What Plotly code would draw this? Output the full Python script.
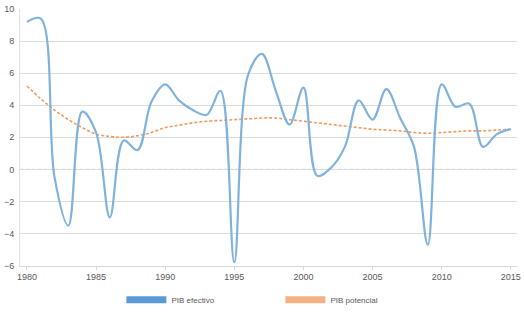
import plotly.graph_objects as go

years = list(range(1980, 2016))
pib_efectivo = [9.2, 9.4, -0.5, -3.5, 3.6, 2.3, -3.0, 1.8, 1.2, 4.2,
                5.3, 4.3, 3.7, 3.4, 4.9, -5.8, 5.9, 7.2, 4.9, 2.8,
                5.1, -0.4, 0.1, 1.4, 4.3, 3.1, 5.0, 3.2, 1.4, -4.7,
                5.3, 3.9, 4.1, 1.4, 2.2, 2.5]
pib_potencial = [5.2, 4.4, 3.7, 3.1, 2.6, 2.2, 2.05, 2.0, 2.1, 2.3,
                 2.6, 2.75, 2.9, 3.0, 3.05, 3.1, 3.15, 3.2, 3.2, 3.1,
                 3.0, 2.9, 2.8, 2.7, 2.6, 2.5, 2.45, 2.4, 2.3, 2.25,
                 2.3, 2.35, 2.4, 2.4, 2.45, 2.5]
x_ticks = [1980, 1985, 1990, 1995, 2000, 2005, 2010, 2015]
y_ticks = [-6, -4, -2, 0, 2, 4, 6, 8, 10]

blue = "#80b2de"
blue_leg = "#5b9bd5"
orange = "#f09a5e"
orange_leg = "#f4b183"

fig = go.Figure()
fig.add_trace(go.Scatter(x=years, y=pib_potencial, mode="lines",
                         line=dict(color=orange, width=1.6, dash="3px,2px", shape="spline", smoothing=1.0),
                         showlegend=False))
fig.add_trace(go.Scatter(x=years, y=pib_efectivo, mode="lines",
                         line=dict(color=blue, width=2.2, shape="spline", smoothing=1.0),
                         showlegend=False))
fig.add_trace(go.Scatter(x=[None], y=[None], mode="lines", name="PIB efectivo",
                         line=dict(color=blue_leg, width=7)))
fig.add_trace(go.Scatter(x=[None], y=[None], mode="lines", name="PIB potencial",
                         line=dict(color=orange_leg, width=7)))

fig.update_layout(
    width=524, height=313,
    margin=dict(l=20, r=3, t=9, b=46),
    plot_bgcolor="white", paper_bgcolor="white",
    font=dict(family="Liberation Sans, Arial, sans-serif", size=9, color="#595959"),
    showlegend=True,
    legend=dict(orientation="h", x=0.204, xanchor="left",
                yref="container", y=0.042, yanchor="middle",
                font=dict(size=8, color="#595959"), entrywidth=104, entrywidthmode="pixels",
                itemwidth=40, bgcolor="rgba(0,0,0,0)"),
    xaxis=dict(range=[1979.5, 2015.45], tickvals=x_ticks, showgrid=False,
               showline=True, linecolor="#d9d9d9", linewidth=1, ticks="outside",
               ticklen=3, tickcolor="#d9d9d9", zeroline=False, tickfont=dict(size=9),
               ticklabeloverflow="allow"),
    yaxis=dict(range=[-6, 10], tickvals=y_ticks, showgrid=True, gridcolor="#dcdcdc",
               gridwidth=1, zeroline=False,
               showline=True, linecolor="#e0e0e0", ticks="", ticklabelstandoff=3,
               tickfont=dict(size=9)),
)
fig.add_hline(y=0, line=dict(color="#bfbfbf", width=1, dash="dot"), layer="below")

fig.write_html("out.html")
